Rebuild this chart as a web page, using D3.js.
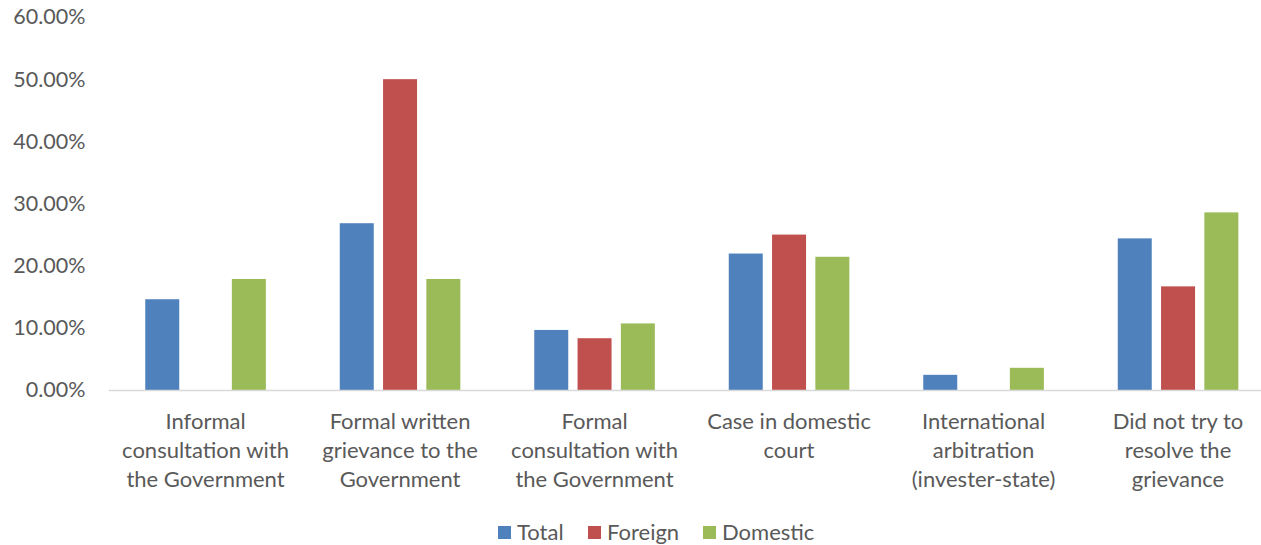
<!DOCTYPE html>
<html>
<head>
<meta charset="utf-8">
<script src="https://cdn.jsdelivr.net/npm/d3@7"></script>
<style>
  html, body { margin: 0; padding: 0; background: #fff; }
  svg { display: block; font-family: Lato, "Open Sans", sans-serif; }
</style>
</head>
<body>
<svg id="chart" width="1261" height="545"></svg>
<script>
// Categories (each label broken into its display lines)
const categories = [
  "Informal|consultation with|the Government",
  "Formal written|grievance to the|Government",
  "Formal|consultation with|the Government",
  "Case in domestic|court",
  "International|arbitration|(invester-state)",
  "Did not try to|resolve the|grievance"
];
const seriesNames = ["Total", "Foreign", "Domestic"];
const seriesColors = ["#4F81BD", "#C0504D", "#9BBB59"];

// Shares per category, in percent
const totalValues    = [14.6, 26.83, 9.66, 21.95, 2.44, 24.39];
const foreignValues  = [0, 50.0, 8.33, 25.0, 0, 16.67];
const domesticValues = [17.86, 17.86, 10.71, 21.43, 3.57, 28.57];

const yTicks = [0, 10, 20, 30, 40, 50, 60];

const series = [totalValues, foreignValues, domesticValues];

const svg = d3.select("#chart");
const textColor = "#595959";

const plot = { left: 108.3, right: 1275.3, top: 17, bottom: 390 };

const y = d3.scaleLinear().domain([0, 60]).range([plot.bottom, plot.top]);

const x0 = d3.scaleBand()
  .domain(categories)
  .range([plot.left, plot.right])
  .paddingInner(0.38)
  .paddingOuter(0.19);

const x1 = d3.scaleBand()
  .domain(seriesNames)
  .range([0, x0.bandwidth()])
  .paddingInner(0.215)
  .paddingOuter(0);

// Y axis labels (no axis line, no gridlines)
const yAxis = d3.axisLeft(y)
  .tickValues(yTicks)
  .tickSize(0)
  .tickPadding(0)
  .tickFormat(d => d3.format(".2f")(d) + "%");

const yg = svg.append("g")
  .attr("transform", `translate(85.5,0)`)
  .call(yAxis);
yg.select(".domain").remove();
yg.selectAll("text")
  .attr("fill", textColor)
  .attr("font-size", 21.5)
  .attr("font-family", "Lato, 'Open Sans', sans-serif");

// Bars
const groups = svg.append("g")
  .selectAll("g")
  .data(categories)
  .join("g")
  .attr("transform", d => `translate(${x0(d)},0)`);

groups.selectAll("rect")
  .data((d, i) => seriesNames.map((s, j) => ({ s, j, v: series[j][i] })))
  .join("rect")
  .filter(d => d.v > 0)
  .attr("x", d => x1(d.s))
  .attr("width", x1.bandwidth())
  .attr("y", d => y(d.v))
  .attr("height", d => y(0) - y(d.v))
  .attr("fill", d => seriesColors[d.j]);

// Category axis
const xAxis = d3.axisBottom(x0).tickSize(0).tickFormat("");
const xg = svg.append("g")
  .attr("transform", `translate(0,${plot.bottom})`)
  .call(xAxis);
xg.select(".domain")
  .attr("stroke", "#D9D9D9")
  .attr("stroke-width", 1.5);

// Multi-line category labels
const lab = svg.append("g")
  .selectAll("text")
  .data(categories)
  .join("text")
  .attr("text-anchor", "middle")
  .attr("fill", textColor)
  .attr("font-size", 22)
  .attr("x", d => x0(d) + x0.bandwidth() / 2)
  .attr("y", 429);
lab.selectAll("tspan")
  .data(d => d.split("|").map(t => ({ t, c: d })))
  .join("tspan")
  .attr("x", d => x0(d.c) + x0.bandwidth() / 2)
  .attr("dy", (d, i) => i === 0 ? 0 : 29)
  .text(d => d.t);

// Legend
const legendItems = [
  { name: "Total", x: 498 },
  { name: "Foreign", x: 588 },
  { name: "Domestic", x: 703 }
];
const lg = svg.append("g");
const li = lg.selectAll("g")
  .data(legendItems)
  .join("g")
  .attr("transform", d => `translate(${d.x},526)`);
li.append("rect")
  .attr("width", 13)
  .attr("height", 13)
  .attr("fill", (d, i) => seriesColors[i]);
li.append("text")
  .attr("x", 19)
  .attr("y", 14)
  .attr("fill", textColor)
  .attr("font-size", 22)
  .text(d => d.name);
</script>
</body>
</html>
